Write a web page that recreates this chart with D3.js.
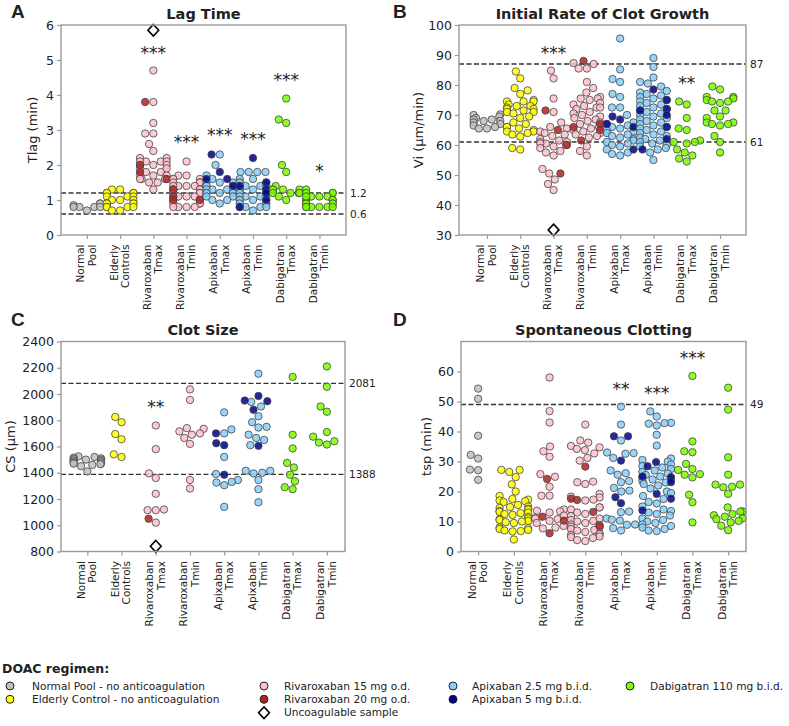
<!DOCTYPE html>
<html>
<head>
<meta charset="utf-8">
<script src="https://cdn.jsdelivr.net/npm/d3@7"></script>
<style>
  body { margin: 0; background: #fff; }
  svg { display: block; }
  text { font-family: "DejaVu Sans", sans-serif; fill: #222; }
</style>
</head>
<body>
<div id="chart"></div>
<script>
// categories on the x axis (two line labels)
const groups = [
  ["Normal", "Pool"], ["Elderly", "Controls"], ["Rivaroxaban", "Tmax"], ["Rivaroxaban", "Tmin"],
  ["Apixaban", "Tmax"], ["Apixaban", "Tmin"], ["Dabigatran", "Tmax"], ["Dabigatran", "Tmin"]
];

const regimens = [
  { key: "np", label: "Normal Pool - no anticoagulation" },
  { key: "ec", label: "Elderly Control - no anticoagulation" },
  { key: "r15", label: "Rivaroxaban 15 mg o.d." },
  { key: "r20", label: "Rivaroxaban 20 mg o.d." },
  { key: "a25", label: "Apixaban 2.5 mg b.i.d." },
  { key: "a5", label: "Apixaban 5 mg b.i.d." },
  { key: "d110", label: "Dabigatran 110 mg b.i.d." }
];

// ---- Panel A: lag time (min)
const lagTime = [
  { g: 0, reg: "np", values: [0.9, 0.85, 0.8, 0.8, 0.7, 0.8, 0.9, 0.8] },
  { g: 1, reg: "ec", values: [1.3, 1.3, 1.2, 1.2, 1.2, 1.2, 1.1, 1.1, 1.1, 1.0, 1.0, 1.0, 0.9, 0.9, 0.9, 0.9, 0.8, 0.8, 0.8, 0.8, 0.7, 0.7] },
  { g: 2, reg: "r15", values: [4.7, 3.8, 3.2, 2.9, 2.9, 2.6, 2.4, 2.2, 2.2, 2.1, 2.1, 2.1, 2.1, 2.0, 2.0, 2.0, 1.9, 1.9, 1.8, 1.8, 1.7, 1.7, 1.7, 1.6, 1.6, 1.6, 1.5, 1.5, 1.3] },
  { g: 2, reg: "r20", values: [3.8, 2.0, 1.8, 1.6] },
  { g: 3, reg: "r15", values: [2.1, 1.7, 1.7, 1.6, 1.6, 1.6, 1.5, 1.5, 1.5, 1.5, 1.4, 1.4, 1.4, 1.4, 1.3, 1.3, 1.3, 1.3, 1.2, 1.2, 1.2, 1.2, 1.2, 1.1, 1.1, 1.1, 1.1, 1.0, 1.0, 1.0, 1.0, 0.9, 0.9, 0.9, 0.8, 0.8, 0.8, 0.8] },
  { g: 3, reg: "r20", values: [1.3, 1.1, 1.0, 1.0] },
  { g: 4, reg: "a25", values: [2.3, 2.0, 1.7, 1.6, 1.5, 1.5, 1.5, 1.4, 1.4, 1.4, 1.4, 1.3, 1.3, 1.3, 1.3, 1.2, 1.2, 1.2, 1.2, 1.1, 1.1, 1.0, 1.0, 0.9] },
  { g: 4, reg: "a5", values: [2.3, 1.8, 1.6, 1.6, 1.4] },
  { g: 5, reg: "a25", values: [1.8, 1.8, 1.8, 1.8, 1.6, 1.6, 1.5, 1.5, 1.5, 1.4, 1.4, 1.4, 1.4, 1.3, 1.3, 1.3, 1.3, 1.2, 1.2, 1.2, 1.2, 1.2, 1.1, 1.1, 1.1, 1.1, 1.0, 1.0, 1.0, 1.0, 0.9, 0.9, 0.9, 0.8, 0.8, 0.8, 0.8, 0.7] },
  { g: 5, reg: "a5", values: [2.2, 1.5, 1.4, 1.3, 1.2, 1.0, 0.8] },
  { g: 6, reg: "d110", values: [3.9, 3.3, 3.2, 2.0, 1.8, 1.4, 1.3, 1.3, 1.3, 1.3, 1.2, 1.2, 1.2, 1.2, 1.1, 1.0] },
  { g: 7, reg: "d110", values: [1.3, 1.2, 1.2, 1.2, 1.1, 1.1, 1.1, 1.0, 1.0, 1.0, 1.0, 0.9, 0.9, 0.9, 0.9, 0.8, 0.8, 0.8, 0.8, 0.8, 0.8, 1.1] }
];
const lagRefs = [1.2, 0.6];
const lagSig = [{ g: 2, text: "***", v: 5.3 }, { g: 3, text: "***", v: 2.75 }, { g: 4, text: "***", v: 2.95 },
  { g: 5, text: "***", v: 2.83 }, { g: 6, text: "***", v: 4.52 }, { g: 7, text: "*", v: 1.92 }];
const lagUncoag = [{ g: 2, v: 5.85 }];

// ---- Panel B: initial rate of clot growth (µm/min)
const rateGrowth = [
  { g: 0, reg: "np", values: [70.2, 70, 69.5, 69, 68.5, 68.5, 68, 68, 67.5, 67, 66.5, 66, 65.5, 65.5] },
  { g: 1, reg: "ec", values: [84.5, 82.2, 79, 78.2, 77, 75, 74.5, 74.5, 74.5, 73.5, 73, 73, 72.5, 72, 72, 71.5, 71, 71, 70.5, 69.5, 69, 67.5, 67, 66, 66, 65.5, 65, 64.5, 64.5, 64, 63.5, 62.8, 59, 58.5] },
  { g: 2, reg: "r15", values: [84.8, 82.2, 75.5, 71, 67.5, 66, 65.5, 64.5, 64, 63.5, 63, 62, 61.5, 61, 61, 60.5, 60.5, 60, 59.5, 59, 58, 57.5, 56.5, 52, 50.5, 48.5, 47, 45] },
  { g: 2, reg: "r20", values: [71.5, 65, 60, 50.5] },
  { g: 3, reg: "r15", values: [87.3, 87, 85.5, 85.5, 81, 79, 77.5, 76, 75.5, 75.5, 75, 74, 73.5, 73, 72.5, 72.5, 72, 71, 70.5, 70, 69.5, 69, 68.5, 68, 67.5, 67, 66, 65.5, 65, 64.5, 64, 63.5, 63, 62.5, 59.5, 58, 56.5] },
  { g: 3, reg: "r20", values: [88, 67, 66, 65, 61.5] },
  { g: 4, reg: "a25", values: [95.5, 85.2, 82, 81, 77, 76, 72.5, 72.5, 70, 67.5, 67, 66.5, 66, 65.5, 65, 64.5, 64, 63.5, 63, 62.5, 62, 61.5, 61, 60.5, 60, 59.5, 58.5, 57.5, 57, 56.5] },
  { g: 4, reg: "a5", values: [69.5, 68.5, 67, 66, 58.5] },
  { g: 5, reg: "a25", values: [89, 86, 82.5, 81, 80.5, 79.5, 78, 77.5, 77, 76.5, 76, 75.5, 75, 74.5, 74, 73.5, 73, 72.5, 72, 71.5, 71, 70.5, 70, 69.5, 69, 68.5, 68, 67.5, 67, 66.5, 66, 65.5, 65, 64.5, 64, 63.5, 63, 62.5, 62, 61.5, 61, 60.5, 60, 59.5, 59, 58.5, 57.5, 55] },
  { g: 5, reg: "a5", values: [78.5, 75, 72, 71.5, 70, 66, 62, 58.5] },
  { g: 6, reg: "d110", values: [74.5, 73.5, 69, 65.5, 65, 61.5, 61, 60.5, 61, 58.5, 57.5, 56.5, 55.5, 54.5] },
  { g: 7, reg: "d110", values: [79.5, 78.5, 76, 76, 75.5, 75, 74.5, 74.5, 74, 71.5, 71.5, 69.5, 69, 67.5, 67.5, 67, 67, 66.5, 63, 61, 57.5] }
];
const rateRefs = [87, 61];
const rateSig = [{ g: 2, text: "***", v: 91.7 }, { g: 6, text: "**", v: 81.7 }];
const rateUncoag = [{ g: 2, v: 31.7 }];

// ---- Panel C: clot size (µm)
const clotSize = [
  { g: 0, reg: "np", values: [1525, 1520, 1515, 1510, 1505, 1500, 1500, 1495, 1490, 1485, 1480, 1475, 1470, 1470, 1465, 1460, 1450, 1410] },
  { g: 1, reg: "ec", values: [1825, 1785, 1695, 1655, 1540, 1520] },
  { g: 2, reg: "r15", values: [1760, 1580, 1395, 1360, 1240, 1115, 1115, 1120, 1020] },
  { g: 2, reg: "r20", values: [1050] },
  { g: 3, reg: "r15", values: [2035, 1955, 1740, 1735, 1715, 1700, 1690, 1665, 1620, 1345, 1280] },
  { g: 4, reg: "a25", values: [1860, 1730, 1700, 1520, 1390, 1345, 1330, 1325, 1305, 1140] },
  { g: 4, reg: "a5", values: [1700, 1625, 1610, 1385] },
  { g: 5, reg: "a25", values: [2155, 1940, 1905, 1830, 1785, 1750, 1745, 1690, 1665, 1650, 1610, 1415, 1415, 1400, 1395, 1345, 1275, 1175] },
  { g: 5, reg: "a5", values: [1985, 1950, 1945, 1880, 1605] },
  { g: 6, reg: "d110", values: [2130, 1690, 1585, 1475, 1440, 1385, 1335, 1290, 1275] },
  { g: 7, reg: "d110", values: [2210, 2055, 1905, 1865, 1710, 1675, 1640, 1630, 1615] }
];
const sizeRefs = [2081, 1388];
const sizeSig = [{ g: 2, text: "**", v: 1930 }];
const sizeUncoag = [{ g: 2, v: 840 }];

// ---- Panel D: spontaneous clotting (min)
const spontClot = [
  { g: 0, reg: "np", values: [54.3, 50.9, 38.6, 32.2, 31, 27.3, 27.1, 23.9] },
  { g: 1, reg: "ec", values: [27.2, 27.2, 26.5, 24.8, 22.4, 20, 18.5, 17.5, 17.3, 17, 16.8, 16.5, 15.5, 15, 14.8, 14.5, 14.2, 14, 13.5, 13.2, 13, 12.8, 12.5, 12.2, 11.5, 11, 10.8, 10.5, 10.2, 10, 9.8, 9.5, 8, 7.8, 7.5, 7.2, 7, 6.8, 6.7, 4] },
  { g: 2, reg: "r15", values: [58, 46.8, 43, 35, 33.4, 31.6, 25.8, 24.9, 21.6, 18.6, 18.6, 14, 13.6, 13.4, 13, 12, 11.2, 11, 10.8, 10.2, 9.5, 8.5, 8, 7.7] },
  { g: 2, reg: "r20", values: [24.2, 11.6, 10.3, 6.1] },
  { g: 3, reg: "r15", values: [42.3, 37, 36.3, 35.2, 34.7, 34.2, 33.8, 32.7, 31.2, 30.3, 23.3, 23.1, 22.5, 19.2, 18.3, 18, 17.3, 17, 14.7, 14.7, 14, 13, 12.5, 11.8, 11, 10.5, 10.2, 10, 9.5, 9, 8.8, 8.3, 8, 7.5, 7.2, 7, 6.5, 6, 5.8, 5.5, 5, 4.8, 4.5, 3.8, 3.5] },
  { g: 3, reg: "r20", values: [28.3, 17.6, 17.2, 13.2, 8.5] },
  { g: 4, reg: "a25", values: [48.3, 42.3, 37, 33, 32.8, 32.6, 31.2, 27, 26.1, 25.6, 23.5, 23.1, 21.2, 20.3, 20, 13.3, 13.1, 11, 10.6, 10.3, 9, 8.9, 7.8, 7] },
  { g: 4, reg: "a5", values: [38.4, 38.4, 30.3, 18.1, 16.1] },
  { g: 5, reg: "a25", values: [46.7, 45, 42.9, 42.8, 42.6, 42, 38.9, 35.3, 31, 30.5, 30, 29, 28.5, 28, 27.5, 27, 26.5, 26, 25.5, 25, 24.5, 24, 24, 23.5, 23, 22.5, 22, 21, 20, 19.5, 18.5, 17.5, 16.5, 16, 15, 14, 13.5, 13, 12.5, 12, 11, 10.5, 10, 9.5, 9, 8.5, 8, 7.5, 7, 6.8] },
  { g: 5, reg: "a5", values: [29.8, 28.4, 25, 24.8, 23.1, 19.2, 17.6, 13.7] },
  { g: 6, reg: "d110", values: [58.5, 36.7, 33.4, 33.1, 29.2, 27.5, 27.2, 25.8, 25.6, 24.7, 18.9, 16.4, 9.7] },
  { g: 7, reg: "d110", values: [54.6, 47.3, 31.4, 25.6, 22.3, 22.3, 21.6, 21.4, 19.2, 14.7, 13.4, 13.3, 12.5, 12.1, 11.6, 11, 10.8, 10.2, 9.7, 8.6, 7.1] }
];
const spontRefs = [49];
const spontSig = [{ g: 4, text: "**", v: 55.3 }, { g: 5, text: "***", v: 53.9 }, { g: 6, text: "***", v: 65.7 }];
const spontUncoag = [];

// ---- styling / layout
const colors = {
  np: "#c0c0c0", ec: "#ffff00", r15: "#ffc0cb", r20: "#b22222",
  a25: "#87cefa", a5: "#00008b", d110: "#7cfc00"
};
const width = 789, height = 726;
const R = 3.7, DIAM = 8.2;

const panels = [
  { letter: "A", title: "Lag Time", ylabel: "Tlag (min)", data: lagTime, refs: lagRefs, sig: lagSig, uncoag: lagUncoag,
    yDomain: [0, 6], ticks: d3.range(0, 7, 1),
    x0: 61, x1: 346, y0: 25, y1: 235, xDom: [-0.78, 7.80], letterXY: [11, 18], titleY: 19, ylabelX: 32 },
  { letter: "B", title: "Initial Rate of Clot Growth", ylabel: "Vi (\u00b5m/min)", data: rateGrowth, refs: rateRefs, sig: rateSig, uncoag: rateUncoag,
    yDomain: [30, 100], ticks: d3.range(30, 101, 10),
    x0: 459, x1: 746, y0: 25, y1: 235, xDom: [-0.84, 7.78], letterXY: [393, 18], titleY: 19, ylabelX: 418 },
  { letter: "C", title: "Clot Size", ylabel: "CS (\u00b5m)", data: clotSize, refs: sizeRefs, sig: sizeSig, uncoag: sizeUncoag,
    yDomain: [800, 2400], ticks: d3.range(800, 2401, 200),
    x0: 61, x1: 345, y0: 341.5, y1: 551.5, xDom: [-0.77, 7.53], letterXY: [11, 326], titleY: 335, ylabelX: 10.5 },
  { letter: "D", title: "Spontaneous Clotting", ylabel: "tsp (min)", data: spontClot, refs: spontRefs, sig: spontSig, uncoag: spontUncoag,
    yDomain: [0, 70], ticks: d3.range(0, 61, 10),
    x0: 461, x1: 746, y0: 341.5, y1: 551.5, xDom: [-0.48, 7.50], letterXY: [393, 326], titleY: 335, ylabelX: 426.7 }
];

let svg = d3.select("#chart").append("svg")
  .attr("width", width)
  .attr("height", height);

// seaborn-like swarm: place each point as close to the centre as it can go
function swarm(pts, d, halfW) {
  let sorted = pts.slice().sort((a, b) => b.py - a.py);
  let placed = [];
  sorted.forEach(p => {
    let nb = placed.filter(q => Math.abs(q.py - p.py) < d);
    let cands = [0];
    nb.forEach(q => {
      let dx = Math.sqrt(d * d - (q.py - p.py) ** 2);
      cands.push(q.off - dx, q.off + dx);
    });
    cands = cands.map((c, i) => ({ c, i }))
      .sort((a, b) => Math.abs(a.c) - Math.abs(b.c) || a.i - b.i)
      .map(o => o.c);
    p.off = cands.find(c => nb.every(q => (c - q.off) ** 2 + (q.py - p.py) ** 2 >= d * d - 1e-6));
    placed.push(p);
  });
  // points that do not fit go into the gutters
  pts.forEach(p => { p.off = Math.max(-halfW, Math.min(halfW, p.off)); });
}

function drawPanel(P) {
  let x = d3.scaleLinear().domain(P.xDom).range([P.x0, P.x1]);
  let y = d3.scaleLinear().domain(P.yDomain).range([P.y1, P.y0]);
  let halfW = 0.4 * (x(1) - x(0));
  let g = svg.append("g");

  // panel letter and title
  g.append("text")
    .attr("x", P.letterXY[0]).attr("y", P.letterXY[1])
    .style("font-family", "'Liberation Sans', Arial, sans-serif")
    .style("font-weight", "bold").style("font-size", "19px")
    .text(P.letter);
  g.append("text")
    .attr("x", (P.x0 + P.x1) / 2).attr("y", P.titleY)
    .attr("text-anchor", "middle")
    .style("font-weight", "bold").style("font-size", "14.5px")
    .text(P.title);

  // y axis ticks + labels
  let yAxis = g.append("g").attr("transform", `translate(${P.x0},0)`)
    .call(d3.axisLeft(y).tickValues(P.ticks).tickFormat(d3.format("d")).tickSize(4).tickPadding(3));
  yAxis.select(".domain").remove();
  yAxis.selectAll("line").attr("stroke", "#999").attr("stroke-width", 1.2);
  yAxis.selectAll("text").style("font-size", "12.5px").style("font-family", "'DejaVu Sans', sans-serif").attr("fill", "#222");

  g.append("text")
    .attr("transform", `translate(${P.ylabelX},${(P.y0 + P.y1) / 2}) rotate(-90)`)
    .attr("text-anchor", "middle").attr("dy", "0.35em")
    .style("font-size", "13px")
    .text(P.ylabel);

  // x axis ticks + rotated two-line labels
  let xAxis = g.append("g").attr("transform", `translate(0,${P.y1})`)
    .call(d3.axisBottom(x).tickValues(d3.range(groups.length)).tickFormat("").tickSize(4));
  xAxis.select(".domain").remove();
  xAxis.selectAll("line").attr("stroke", "#999").attr("stroke-width", 1.2);

  groups.forEach((lines, i) => {
    let t = g.append("text")
      .attr("transform", `translate(${x(i)},${P.y1 + 9.5}) rotate(-90)`)
      .attr("text-anchor", "end")
      .style("font-size", "10.5px");
    t.append("tspan").attr("x", 0).attr("y", -2.6).text(lines[0]);
    t.append("tspan").attr("x", 0).attr("y", 8.8).text(lines[1]);
  });

  // reference lines
  P.refs.forEach(v => {
    g.append("line")
      .attr("x1", P.x0).attr("x2", P.x1)
      .attr("y1", y(v)).attr("y2", y(v))
      .attr("stroke", "#333").attr("stroke-width", 1.3)
      .attr("stroke-dasharray", "5,2.5");
    g.append("text")
      .attr("x", P.x1 + 4).attr("y", y(v)).attr("dy", "0.35em")
      .style("font-size", "10.5px")
      .text(v);
  });

  // points, swarmed per group
  let pts = [];
  P.data.forEach(s => s.values.forEach(v => pts.push({ g: s.g, reg: s.reg, v: v, py: y(v) })));
  d3.range(groups.length).forEach(i => swarm(pts.filter(p => p.g === i), DIAM, halfW));

  g.append("g")
    .selectAll("circle")
    .data(pts)
    .join("circle")
      .attr("cx", d => x(d.g) + d.off)
      .attr("cy", d => d.py)
      .attr("r", R)
      .attr("fill", d => colors[d.reg])
      .attr("fill-opacity", 0.85)
      .attr("stroke", "#444")
      .attr("stroke-width", 0.8);

  // uncoagulable samples
  g.selectAll("path.unc")
    .data(P.uncoag)
    .join("path")
      .attr("class", "unc")
      .attr("d", "M0,-5.8L5.4,0L0,5.8L-5.4,0Z")
      .attr("transform", d => `translate(${x(d.g)},${y(d.v)})`)
      .attr("fill", "#fff").attr("stroke", "#000").attr("stroke-width", 1.6);

  // significance stars
  g.selectAll("text.sig")
    .data(P.sig)
    .join("text")
      .attr("class", "sig")
      .attr("x", d => x(d.g))
      .attr("y", d => y(d.v) + 9.5)
      .attr("text-anchor", "middle")
      .style("font-size", "17px")
      .text(d => d.text);

  // frame
  g.append("rect")
    .attr("x", P.x0).attr("y", P.y0)
    .attr("width", P.x1 - P.x0).attr("height", P.y1 - P.y0)
    .attr("fill", "none").attr("stroke", "#999").attr("stroke-width", 1.4);
}

panels.forEach(drawPanel);

// legend
let legend = svg.append("g");
legend.append("text")
  .attr("x", 2).attr("y", 673)
  .style("font-weight", "bold").style("font-size", "12.5px")
  .text("DOAC regimen:");

const legendCols = [10, 264, 453, 630];
const legendTextX = [32, 284, 472, 650];
const rowY = [686, 699.3, 712.7];
const legendSlots = [["np", 0, 0], ["ec", 0, 1], ["r15", 1, 0], ["r20", 1, 1], ["a25", 2, 0], ["a5", 2, 1], ["d110", 3, 0]];

legendSlots.forEach(([key, c, r]) => {
  let reg = regimens.find(d => d.key === key);
  legend.append("circle")
    .attr("cx", legendCols[c]).attr("cy", rowY[r]).attr("r", 4)
    .attr("fill", colors[key]).attr("stroke", "#222").attr("stroke-width", 1);
  legend.append("text")
    .attr("x", legendTextX[c]).attr("y", rowY[r]).attr("dy", "0.35em")
    .style("font-size", "10.6px")
    .text(reg.label);
});
legend.append("path")
  .attr("d", "M0,-5.8L5.4,0L0,5.8L-5.4,0Z")
  .attr("transform", `translate(${legendCols[1]},${rowY[2]})`)
  .attr("fill", "#fff").attr("stroke", "#000").attr("stroke-width", 1.6);
legend.append("text")
  .attr("x", legendTextX[1]).attr("y", rowY[2]).attr("dy", "0.35em")
  .style("font-size", "10.6px")
  .text("Uncoagulable sample");
</script>
</body>
</html>
